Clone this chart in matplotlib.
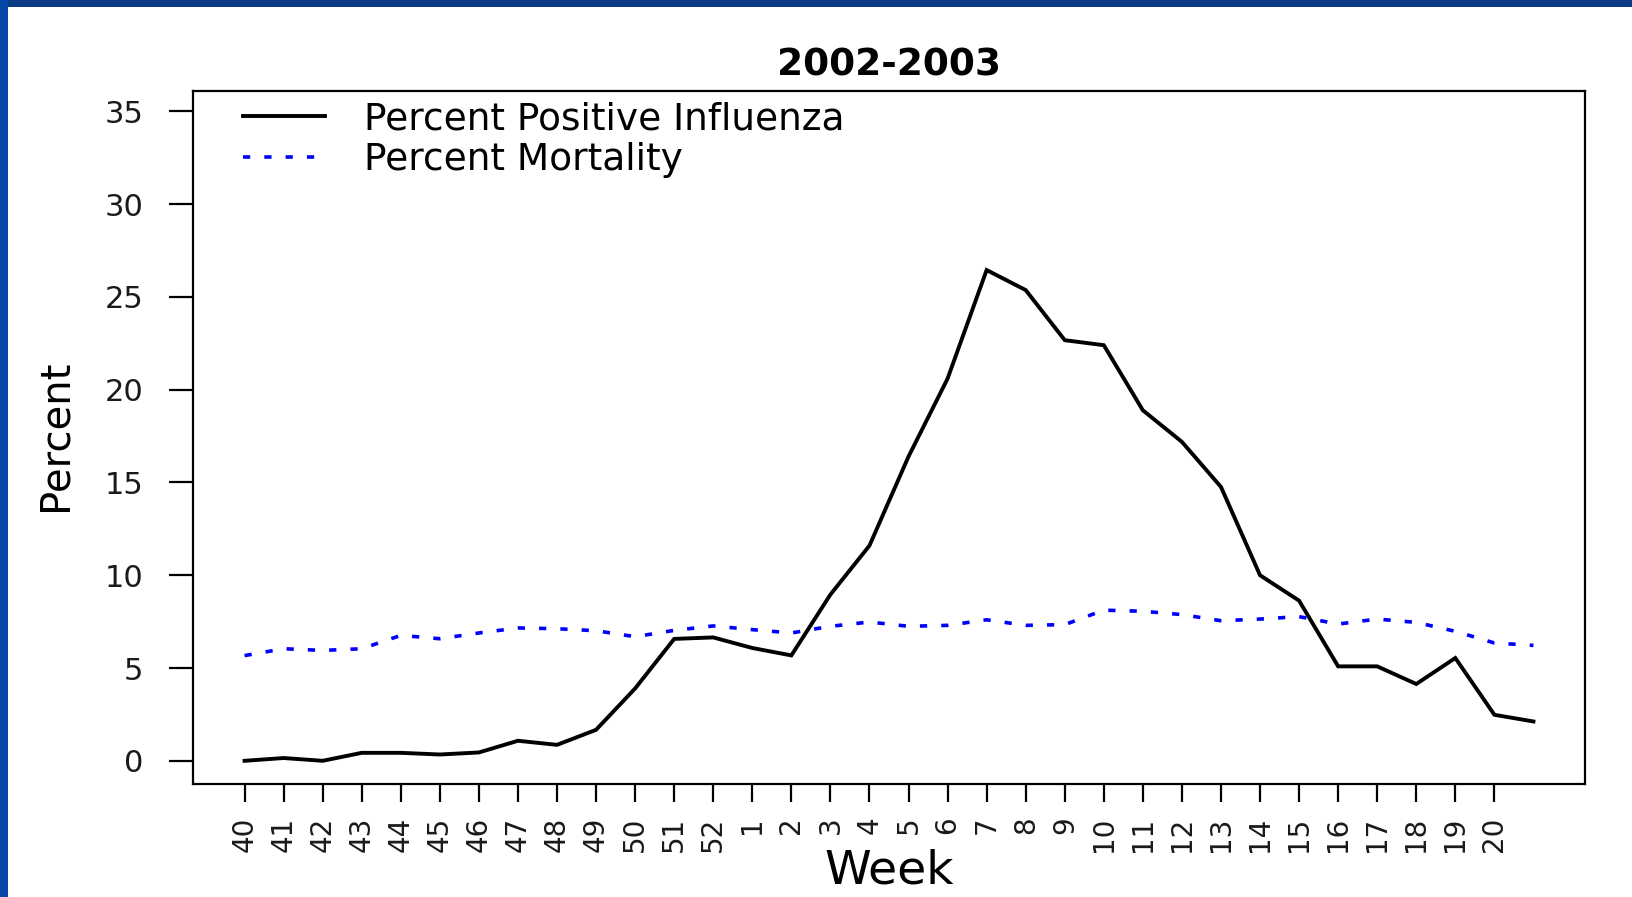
import matplotlib
matplotlib.use("Agg")
import matplotlib.pyplot as plt
from matplotlib.patches import Rectangle

# ---- data ----
weeks = ["40", "41", "42", "43", "44", "45", "46", "47", "48", "49", "50", "51", "52",
         "1", "2", "3", "4", "5", "6", "7", "8", "9", "10", "11", "12", "13", "14",
         "15", "16", "17", "18", "19", "20", "21"]
tick_labels = weeks[:33]          # the last week (21) carries no tick
percent_positive = [0.0, 0.15, 0.0, 0.43, 0.43, 0.34, 0.45, 1.08, 0.86, 1.67, 3.9, 6.57, 6.65,
                    6.08, 5.68, 8.96, 11.6, 16.4, 20.6, 26.45, 25.37, 22.67, 22.4, 18.89, 17.19,
                    14.76, 10.0, 8.63, 5.09, 5.09, 4.14, 5.54, 2.48, 2.12]
percent_mortality = [5.67, 6.04, 5.95, 6.04, 6.76, 6.58, 6.89, 7.16, 7.12, 7.01, 6.69, 7.03, 7.27,
                     7.07, 6.89, 7.25, 7.48, 7.25, 7.30, 7.6, 7.3, 7.34, 8.12, 8.06, 7.88,
                     7.55, 7.64, 7.77, 7.37, 7.64, 7.46, 6.98, 6.35, 6.22]
y_ticks = [0, 5, 10, 15, 20, 25, 30, 35]
title = "2002-2003"
series_names = ["Percent Positive Influenza", "Percent Mortality"]

plt.rcParams['font.family'] = ['DejaVu Sans']

W, H = 1633, 897
fig = plt.figure(figsize=(W / 100, H / 100), dpi=100)
fig.patch.set_facecolor("white")

# slide border (blue bands top and left)
fig.patches.append(Rectangle((0, 1 - 7 / H), 1, 7 / H, transform=fig.transFigure,
                             facecolor="#0b3a84", edgecolor="none", zorder=0))
fig.patches.append(Rectangle((0, 0), 8 / W, 1, transform=fig.transFigure,
                             facecolor="#0747a6", edgecolor="none", zorder=0))

left, right, top, bottom = 193, 1585, 91, 784
ax = fig.add_axes([left / W, 1 - bottom / H, (right - left) / W, (bottom - top) / H])

x = list(range(len(weeks)))
l1, = ax.plot(x, percent_positive, color="black", lw=2.8, solid_joinstyle="miter")
l2, = ax.plot(x, percent_mortality, color="#0000ff", lw=2.6,
              linestyle=(0, (2.0, 3.9)), dash_capstyle="butt")

ax.set_xlim(-1.32, 34.32)
ax.set_ylim(-1.25, 36.1)

ax.set_xticks(list(range(len(tick_labels))))
ax.set_xticklabels(tick_labels, rotation=90, fontsize=20, color="#1a1a1a")
ax.set_yticks(y_ticks)
ax.set_yticklabels([str(v) for v in y_ticks], fontsize=22, color="#1a1a1a")

ax.tick_params(axis="y", length=17.3, width=1.6, pad=18.5, direction="out")
ax.tick_params(axis="x", length=13, width=1.6, pad=10.4, direction="out")
for s in ax.spines.values():
    s.set_linewidth(1.6)
    s.set_color("black")

ax.set_title(title, fontsize=27, fontweight="bold", pad=11)

ax.set_xlabel("Week", fontsize=34)
ax.xaxis.set_label_coords(0.5, -0.0925)
ax.set_ylabel("Percent", fontsize=29)
ax.yaxis.label.set_va("center")
ax.yaxis.set_label_coords(-0.0985, 0.5036)

ax.legend([l1, l2], series_names, loc="upper left", bbox_to_anchor=(0.0359, 0.9847),
          frameon=False, borderpad=0, borderaxespad=0, fontsize=27,
          handlelength=2.19, handletextpad=1.03, labelspacing=0.12)

fig.savefig("out.png", dpi=100, facecolor=fig.get_facecolor())
